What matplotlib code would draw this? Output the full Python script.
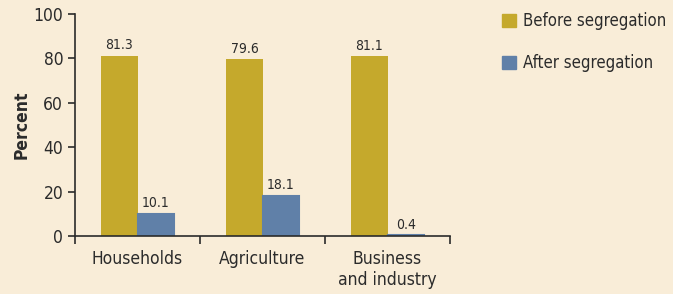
import numpy as np
import matplotlib.pyplot as plt
from matplotlib.patches import Patch

categories = ['Households', 'Agriculture', 'Business\nand industry']
before = [81.3, 79.6, 81.1]
after = [10.1, 18.1, 0.4]
series_names = ['Before segregation', 'After segregation']

bg = '#F9EDD8'
gold = '#C5A92C'
blue = '#6080A8'
txt = '#2B2B2B'

plt.rcParams['font.family'] = ['DejaVu Sans']
plt.rcParams['font.stretch'] = 'condensed'

fig = plt.figure(figsize=(6.73, 2.94), dpi=100, facecolor=bg)
ax = fig.add_axes([75/673, 58/294, 375/673, 222/294])
ax.set_facecolor(bg)

x = np.arange(len(categories))
w = 0.29
ax.bar(x - w/2, before, w, color=gold, label=series_names[0])
ax.bar(x + w/2, after, w, color=blue, edgecolor=blue, linewidth=1.5, label=series_names[1])

for xi, v in zip(x - w/2, before):
    ax.text(xi, v + 1.5, '%.1f' % v, ha='center', va='bottom', fontsize=10, color=txt)
for xi, v in zip(x + w/2, after):
    ax.text(xi, v + 1.5, '%.1f' % v, ha='center', va='bottom', fontsize=10, color=txt)

ax.set_xlim(-0.5, 2.5)
ax.set_ylim(0, 100)
ax.set_yticks([0, 20, 40, 60, 80, 100])
ax.set_xticks([-0.5, 0.5, 1.5, 2.5])
ax.set_xticklabels([])
ax.set_xticks(x, minor=True)
ax.set_xticklabels(categories, minor=True, fontsize=12.5, color=txt, linespacing=1.2)
ax.tick_params(axis='x', which='minor', length=0, pad=10)
ax.tick_params(axis='x', which='major', length=6, width=1.2, color=txt, direction='out')
ax.tick_params(axis='y', length=5, width=1.2, color=txt, labelsize=12.5, labelcolor=txt)
for s in ['top', 'right']:
    ax.spines[s].set_visible(False)
for s in ['left', 'bottom']:
    ax.spines[s].set_linewidth(1.2)
    ax.spines[s].set_color(txt)
ax.set_ylabel('Percent', fontsize=12.5, fontweight='bold', color=txt, labelpad=2)

handles = [Patch(color=gold), Patch(color=blue)]
leg = fig.legend(handles, series_names, loc='upper left', bbox_to_anchor=(495/673, 0.982),
                 frameon=False, fontsize=12, handlelength=0.85, handleheight=0.85,
                 handletextpad=0.4, labelspacing=1.45, labelcolor=txt, borderpad=0.4,
                 borderaxespad=0)

fig.savefig('out.png', dpi=100, facecolor=bg)
